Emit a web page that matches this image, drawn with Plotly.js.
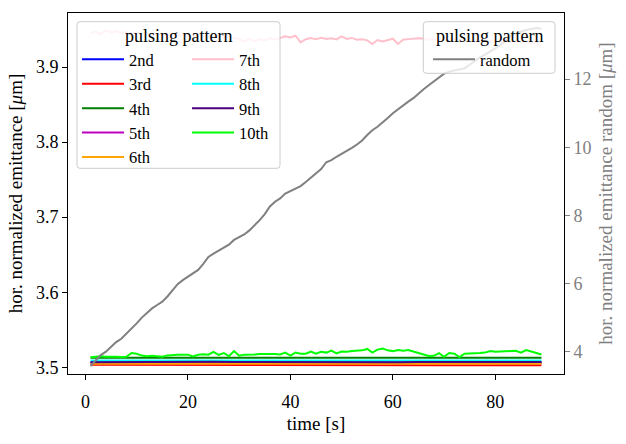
<!DOCTYPE html>
<html><head><meta charset="utf-8">
<script src="https://cdn.plot.ly/plotly-3.0.1.min.js"></script>
<style>html,body{margin:0;padding:0;background:#fff}#chart{width:626px;height:444px}</style>
</head><body><div id="chart"></div>
<script>
// ---- data ----
const time = [1,2,3,4,5,6,7,8,9,10,11,12,13,14,15,16,17,18,19,20,21,22,23,24,25,26,27,28,29,30,31,32,33,34,35,36,37,38,39,40,41,42,43,44,45,46,47,48,49,50,51,52,53,54,55,56,57,58,59,60,61,62,63,64,65,66,67,68,69,70,71,72,73,74,75,76,77,78,79,80,81,82,83,84,85,86,87,88,89];
const timeCoarse = [1,5,9,13,17,21,25,29,33,37,41,45,49,53,57,61,65,69,73,77,81,85,89];

const p2nd = [3.5066,3.5065,3.5066,3.5065,3.5066,3.5065,3.5066,3.5065,3.5064,3.5065,3.5066,3.5065,3.5064,3.5065,3.5066,3.5065,3.5064,3.5065,3.5065,3.5066,3.5065,3.5064,3.5065];
const p3rd = [3.5033,3.5032,3.5033,3.5032,3.5032,3.5031,3.5032,3.5031,3.5031,3.5030,3.5031,3.5030,3.5029,3.5028,3.5027,3.5026,3.5026,3.5026,3.5027,3.5026,3.5027,3.5027,3.5028];
const p4th = [3.5128,3.5128,3.5129,3.5128,3.5128,3.5129,3.5128,3.5128,3.5129,3.5128,3.5128,3.5129,3.5128,3.5128,3.5129,3.5128,3.5128,3.5129,3.5128,3.5128,3.5129,3.5128,3.5128];
const p5th = [3.5055,3.5056,3.5055,3.5054,3.5055,3.5056,3.5055,3.5054,3.5055,3.5055,3.5056,3.5055,3.5054,3.5055,3.5055,3.5054,3.5055,3.5056,3.5055,3.5054,3.5055,3.5055,3.5054];
const p6th = [3.5045,3.5044,3.5045,3.5046,3.5045,3.5044,3.5045,3.5046,3.5045,3.5044,3.5045,3.5045,3.5044,3.5045,3.5046,3.5045,3.5044,3.5045,3.5045,3.5044,3.5045,3.5046,3.5045];
const p7th = [3.9444,3.9475,3.9440,3.9488,3.9460,3.9478,3.9455,3.9468,3.9445,3.9462,3.9435,3.9452,3.9428,3.9445,3.9425,3.9448,3.9420,3.9438,3.9415,3.9432,3.9408,3.9428,3.9405,3.9422,3.9400,3.9418,3.9395,3.9410,3.9385,3.9373,3.9340,3.9375,3.9345,3.9372,3.9355,3.9385,3.9365,3.9390,3.9410,3.9395,3.9417,3.9328,3.9370,3.9385,3.9372,3.9390,3.9375,3.9382,3.9368,3.9408,3.9375,3.9388,3.9365,3.9370,3.9355,3.9307,3.9360,3.9340,3.9355,3.9377,3.9307,3.9365,3.9372,3.9378,3.9385,3.9380,3.9362,3.9375,3.9350,3.9370,3.9345,3.9368,3.9340,3.9362,3.9338,3.9358,3.9335,3.9355,3.9330,3.9350,3.9328,3.9348,3.9325,3.9345,3.9335,3.9340,3.9318,3.9335,3.9270];
const p8th = [3.5090,3.5091,3.5090,3.5089,3.5090,3.5091,3.5090,3.5090,3.5089,3.5090,3.5091,3.5090,3.5089,3.5090,3.5090,3.5091,3.5090,3.5089,3.5090,3.5090,3.5091,3.5090,3.5090];
const p9th = [3.5068,3.5070,3.5069,3.5071,3.5068,3.5070,3.5072,3.5069,3.5068,3.5071,3.5070,3.5068,3.5071,3.5072,3.5069,3.5068,3.5071,3.5070,3.5073,3.5070,3.5068,3.5071,3.5069];
const p10th = [3.5133,3.5140,3.5145,3.5140,3.5143,3.5140,3.5138,3.5140,3.5190,3.5180,3.5155,3.5148,3.5152,3.5145,3.5140,3.5158,3.5165,3.5168,3.5165,3.5168,3.5145,3.5165,3.5172,3.5168,3.5205,3.5165,3.5190,3.5148,3.5215,3.5155,3.5168,3.5165,3.5170,3.5175,3.5178,3.5175,3.5178,3.5170,3.5195,3.5155,3.5195,3.5180,3.5180,3.5210,3.5180,3.5205,3.5195,3.5222,3.5185,3.5210,3.5205,3.5215,3.5220,3.5225,3.5244,3.5195,3.5235,3.5250,3.5225,3.5215,3.5230,3.5220,3.5228,3.5210,3.5195,3.5173,3.5150,3.5152,3.5187,3.5140,3.5190,3.5180,3.5135,3.5180,3.5180,3.5185,3.5190,3.5195,3.5215,3.5205,3.5208,3.5212,3.5218,3.5220,3.5195,3.5228,3.5210,3.5195,3.5170];
const pRandom = [3.58,3.75,3.90,4.00,4.15,4.28,4.38,4.52,4.66,4.83,5.00,5.15,5.27,5.37,5.47,5.62,5.80,5.98,6.10,6.20,6.29,6.40,6.58,6.78,6.88,6.96,7.04,7.14,7.28,7.36,7.44,7.56,7.70,7.86,8.04,8.26,8.40,8.50,8.64,8.72,8.78,8.86,8.98,9.10,9.22,9.36,9.56,9.62,9.72,9.80,9.90,9.98,10.08,10.20,10.36,10.50,10.60,10.72,10.86,11.00,11.12,11.24,11.34,11.44,11.58,11.70,11.82,11.94,12.06,12.16,12.22,12.25,12.27,12.32,12.42,12.54,12.64,12.72,12.80,12.90,13.00,13.12,13.26,13.34,13.40,13.44,13.47,13.50,13.48];

const xTicks = [0,20,40,60,80];
const yTicks = [3.5,3.6,3.7,3.8,3.9];
const y2Ticks = [4,6,8,10,12];

// ---- layout helpers ----
const W=626,H=444,ML=68,MR=62,MT=13,MB=70;
const PW=W-ML-MR, PH=H-MT-MB;
const X = p => (p-ML)/PW;
const Y = p => 1-(p-MT)/PH;
function roundRect(x0,y0,x1,y1,r){
  return `M${X(x0+r)},${Y(y0)} L${X(x1-r)},${Y(y0)} Q${X(x1)},${Y(y0)} ${X(x1)},${Y(y0+r)} L${X(x1)},${Y(y1-r)} Q${X(x1)},${Y(y1)} ${X(x1-r)},${Y(y1)} L${X(x0+r)},${Y(y1)} Q${X(x0)},${Y(y1)} ${X(x0)},${Y(y1-r)} L${X(x0)},${Y(y0+r)} Q${X(x0)},${Y(y0)} ${X(x0+r)},${Y(y0)} Z`;
}

const FONT = '"Liberation Serif", "Times New Roman", serif';
const LW = 2;
function tr(x, y, name, color, legend){
  return {x:x, y:y, name:name, type:'scatter', mode:'lines', line:{color:color, width:LW}, legend:legend, xaxis:'x', yaxis:'y', hoverinfo:'skip'};
}
const traces = [
  tr(timeCoarse, p2nd, '2nd', '#0000ff', 'legend'),
  tr(timeCoarse, p3rd, '3rd', '#ff0000', 'legend'),
  tr(timeCoarse, p4th, '4th', '#008000', 'legend'),
  tr(timeCoarse, p5th, '5th', '#bf00bf', 'legend'),
  tr(timeCoarse, p6th, '6th', '#ffa500', 'legend'),
  tr(time, p7th, '7th', '#ffc0cb', 'legend2'),
  tr(timeCoarse, p8th, '8th', '#00ffff', 'legend2'),
  tr(timeCoarse, p9th, '9th', '#4b0082', 'legend2'),
  tr(time, p10th, '10th', '#00ff00', 'legend2'),
  {x:time, y:pRandom, name:'random', type:'scatter', mode:'lines', line:{color:'#808080', width:LW}, legend:'legend3', xaxis:'x', yaxis:'y2', hoverinfo:'skip'}
];

const legFont = {family:FONT, size:16.5, color:'#000'};
const legBase = {bgcolor:'rgba(0,0,0,0)', borderwidth:0, font:legFont, xanchor:'left', yanchor:'top', traceorder:'normal', itemwidth:42};
const titleFont = {family:FONT, size:18, color:'#000'};

const layout = {
  width:W, height:H,
  margin:{l:ML, r:MR, t:MT, b:MB, pad:0},
  paper_bgcolor:'#fff', plot_bgcolor:'#fff',
  font:{family:FONT, size:18, color:'#000'},
  showlegend:true,
  xaxis:{range:[-3.4,93.4], tickvals:xTicks, ticks:'outside', ticklen:5, tickwidth:1, tickcolor:'#000', ticklabelstandoff:6,
         showline:true, linecolor:'#000', linewidth:1, mirror:true, showgrid:false, zeroline:false,
         tickfont:{family:FONT, size:18}, title:{text:'time [s]', font:{family:FONT, size:19}, standoff:6}},
  yaxis:{range:[3.491,3.972], tickvals:yTicks, ticktext:yTicks.map(v=>v.toFixed(1)), ticks:'outside', ticklen:5, tickwidth:1, tickcolor:'#000',
         showline:true, linecolor:'#000', linewidth:1, showgrid:false, zeroline:false,
         tickfont:{family:FONT, size:18}, title:{text:'hor. normalized emittance [<i>μ</i>m]', font:{family:FONT, size:19}, standoff:8}},
  yaxis2:{overlaying:'y', side:'right', range:[3.345,13.94], tickvals:y2Ticks, ticks:'outside', ticklen:5, tickwidth:1, tickcolor:'#808080',
          showline:true, linecolor:'#000', linewidth:1, showgrid:false, zeroline:false,
          tickfont:{family:FONT, size:18, color:'#808080'},
          title:{text:'hor. normalized emittance random [<i>μ</i>m]', font:{family:FONT, size:19, color:'#808080'}, standoff:8}},
  legend: Object.assign({}, legBase, {x:X(77), y:Y(42)}),
  legend2: Object.assign({}, legBase, {x:X(187), y:Y(42)}),
  legend3: Object.assign({}, legBase, {x:X(428), y:Y(42)}),
  shapes:[
    {type:'path', xref:'paper', yref:'paper', layer:'above', path:roundRect(77,21.7,280,168.3,3), fillcolor:'rgba(255,255,255,0.8)', line:{color:'#cccccc', width:1}},
    {type:'path', xref:'paper', yref:'paper', layer:'above', path:roundRect(423.3,21.7,555,73.3,3), fillcolor:'rgba(255,255,255,0.8)', line:{color:'#cccccc', width:1}}
  ],
  annotations:[
    {xref:'paper', yref:'paper', x:X(178), y:Y(36), text:'pulsing pattern', showarrow:false, xanchor:'center', yanchor:'middle', font:titleFont},
    {xref:'paper', yref:'paper', x:X(489), y:Y(36), text:'pulsing pattern', showarrow:false, xanchor:'center', yanchor:'middle', font:titleFont}
  ]
};

Plotly.newPlot('chart', traces, layout, {displayModeBar:false, staticPlot:true});
</script>
</body></html>
